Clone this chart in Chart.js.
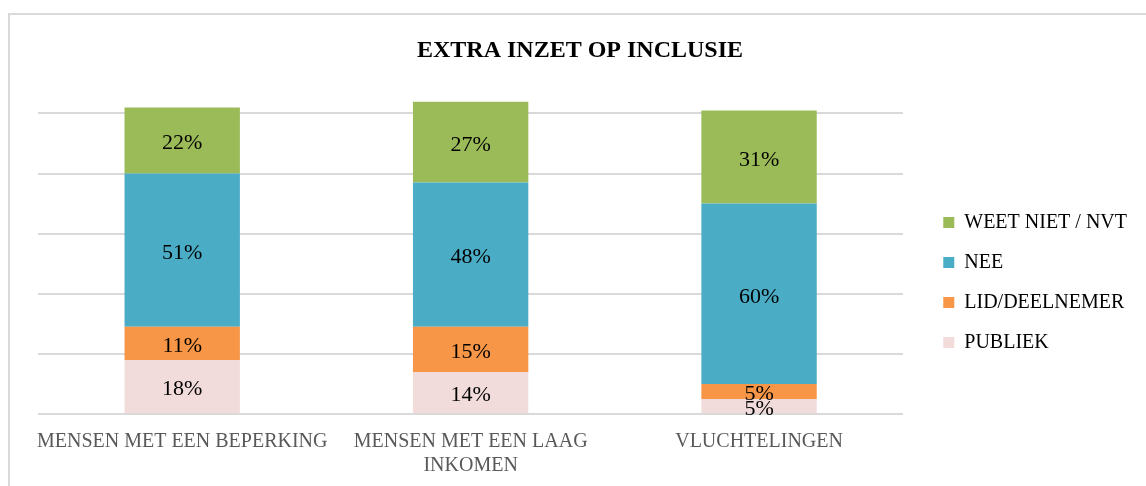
<!DOCTYPE html>
<html>
<head>
<meta charset="utf-8">
<script src="https://cdn.jsdelivr.net/npm/chart.js@4.4.1/dist/chart.umd.min.js"></script>
<style>
  html, body { margin: 0; padding: 0; background: #fff; overflow: hidden; }
  #frame {
    position: absolute; left: 8px; top: 13px;
    width: 1150px; height: 473px;
    border-top: 2px solid #d9d9d9; border-left: 2px solid #d9d9d9;
  }
  #chart { display: block; }
</style>
</head>
<body>
<div id="frame"><canvas id="chart" width="1147" height="471"></canvas></div>
<script>
// Data
const categories = [
  'MENSEN MET EEN BEPERKING',
  ['MENSEN MET EEN LAAG', 'INKOMEN'],
  'VLUCHTELINGEN'
];
const publiek = [18, 14, 5];
const lidDeelnemer = [11, 15, 5];
const nee = [51, 48, 60];
const weetNiet = [22, 27, 31];
const gridTicks = [0, 20, 40, 60, 80, 100];
const chartTitle = 'EXTRA INZET OP INCLUSIE';

const serif = "'Liberation Serif', 'DejaVu Serif', serif";

// draws the % inside each segment
const segmentLabels = {
  id: 'segmentLabels',
  afterDatasetsDraw(chart) {
    const ctx = chart.ctx;
    ctx.save();
    ctx.font = "22px " + serif;
    ctx.fillStyle = '#000';
    ctx.textAlign = 'center';
    ctx.textBaseline = 'middle';
    chart.data.datasets.forEach((ds, i) => {
      const meta = chart.getDatasetMeta(i);
      meta.data.forEach((bar, j) => {
        const p = bar.getCenterPoint();
        ctx.fillText(ds.data[j] + '%', p.x, p.y + 3);
      });
    });
    ctx.restore();
  }
};

// title centred on the visible frame, not on the padded layout box
const frameTitle = {
  id: 'frameTitle',
  afterDraw(chart) {
    const ctx = chart.ctx;
    ctx.save();
    ctx.font = "bold 24px " + serif;
    ctx.fillStyle = '#000';
    ctx.textAlign = 'center';
    ctx.textBaseline = 'middle';
    ctx.fillText(chartTitle, 570, 36);
    ctx.restore();
  }
};

const ctx = document.getElementById('chart').getContext('2d');
new Chart(ctx, {
  type: 'bar',
  data: {
    labels: categories,
    datasets: [
      { label: 'PUBLIEK', data: publiek, backgroundColor: '#F2DCDB' },
      { label: 'LID/DEELNEMER', data: lidDeelnemer, backgroundColor: '#F79646' },
      { label: 'NEE', data: nee, backgroundColor: '#4BACC6' },
      { label: 'WEET NIET / NVT', data: weetNiet, backgroundColor: '#9BBB59' }
    ]
  },
  options: {
    responsive: false,
    animation: false,
    layout: { padding: { left: 28, right: 20, top: 86.4, bottom: 0 } },
    datasets: { bar: { categoryPercentage: 1, barPercentage: 0.4 } },
    plugins: {
      title: { display: false },
      legend: {
        position: 'right',
        reverse: true,
        // empty title, its (negative) height only nudges the items up
        title: { display: true, text: '', font: { size: 12 }, padding: { top: -37, bottom: 0 } },
        labels: {
          color: '#000',
          font: { family: serif, size: 20 },
          boxWidth: 11,
          boxHeight: 11,
          padding: 20
        }
      },
      tooltip: { enabled: false }
    },
    scales: {
      x: {
        stacked: true,
        grid: { display: false },
        border: { display: false },
        ticks: { color: '#595959', font: { family: serif, size: 20 }, maxRotation: 0, autoSkip: false, padding: 8 }
      },
      // axis sits on the right so its empty width is the gap before the legend
      y: {
        stacked: true,
        position: 'right',
        min: 0,
        max: 104,
        afterBuildTicks: (scale) => { scale.ticks = gridTicks.map(v => ({ value: v })); },
        afterFit: (scale) => { scale.width = 20; },
        grid: { color: '#d9d9d9', lineWidth: 2, drawTicks: false },
        border: { display: false },
        ticks: { display: false }
      }
    }
  },
  plugins: [segmentLabels, frameTitle]
});
</script>
</body>
</html>
